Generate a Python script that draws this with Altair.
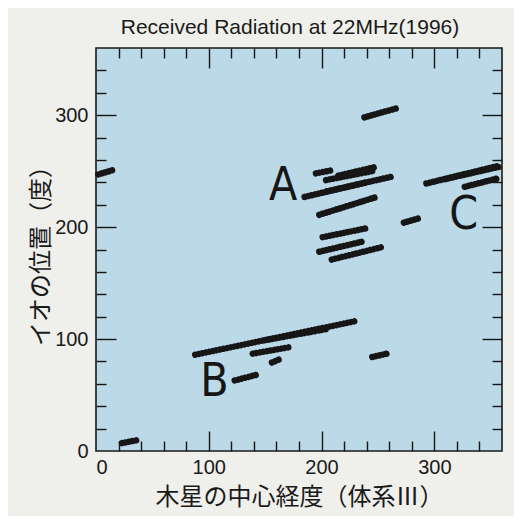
import altair as alt
import pandas as pd

# ---- data (segments of received radiation) ----
seg_x1 = [195, 204, 215, 185, 205, 198, 201, 198, 209,   # A group
          293, 310, 327, 2,                                # C group (+ wrap)
          238, 273, 23,                                    # misc
          88, 150, 139, 156, 123, 245]                     # B group
seg_y1 = [248, 242, 246, 227, 232, 211, 191, 178, 171,
          239, 243, 236, 247,
          298, 204, 7,
          86, 99, 87, 79, 63, 84]
seg_x2 = [210, 245, 249, 240, 262, 249, 240, 236, 253,
          358, 358, 358, 15,
          266, 287, 38,
          230, 205, 173, 163, 142, 258]
seg_y2 = [251, 250, 254, 240, 245, 227, 199, 187, 182,
          255, 254, 244, 251,
          306, 208, 10,
          116, 109, 93, 82, 68, 87]

label_text = ["A", "B", "C"]
label_x = [166, 105, 326]
label_y = [237, 62, 211]

tick_labels = [0, 100, 200, 300]
major_ticks = [100, 200, 300]
minor_ticks = [20, 40, 60, 80, 120, 140, 160, 180, 220, 240, 260, 280, 320, 340]

W, H = 406, 403
BLUE = "#bcd9e8"
PANEL = "#efefeb"
INK = "#161616"

xs = alt.Scale(domain=[0, 360], nice=False, zero=False)
ys = alt.Scale(domain=[0, 360], nice=False, zero=False)

segs = pd.DataFrame({"x1": seg_x1, "y1": seg_y1, "x2": seg_x2, "y2": seg_y2})
labels = pd.DataFrame({"t": label_text, "x1": label_x, "y1": label_y})

x_axis = alt.Axis(values=tick_labels, ticks=False, domain=False, grid=False,
                  labelFontSize=20, labelFont="Liberation Sans", labelColor="#1a1a1a",
                  labelPadding=6, title="木星の中心経度（体系Ⅲ）",
                  titleFont="Noto Sans CJK JP", titleFontSize=24, titleFontWeight="normal",
                  titleColor="#1a1a1a", titlePadding=8)
y_axis = alt.Axis(values=tick_labels, ticks=False, domain=False, grid=False,
                  labelFontSize=20, labelFont="Liberation Sans", labelColor="#1a1a1a",
                  labelPadding=8, title="イオの位置（度）",
                  titleFont="Noto Sans CJK JP", titleFontSize=24, titleFontWeight="normal",
                  titleColor="#1a1a1a", titlePadding=1)

seg_layer = alt.Chart(segs).mark_rule(
    strokeWidth=6.5, strokeCap="round", strokeDash=[0.01, 3.6], color=INK
).encode(
    x=alt.X("x1:Q", scale=xs, axis=x_axis),
    y=alt.Y("y1:Q", scale=ys, axis=y_axis),
    x2="x2:Q", y2="y2:Q")

text_layer = alt.Chart(labels).mark_text(
    fontSize=46, font="Liberation Sans Narrow, DejaVu Sans Condensed, Roboto Condensed, Liberation Sans",
    color=INK, baseline="middle", align="center"
).encode(
    x=alt.X("x1:Q", scale=xs, axis=None),
    y=alt.Y("y1:Q", scale=ys, axis=None),
    text="t:N")


def tick_axis(orient, vals, L):
    # inward ticks: axis line moved inside by L, ticks of length L reach the frame
    return alt.Axis(orient=orient, offset=-L, tickSize=L, ticks=True, labels=False,
                    domain=False, grid=False, title="", values=vals,
                    tickColor=INK, tickWidth=1.4)


tick_layers = []
for vals, L in [(major_ticks, 20), (minor_ticks, 10)]:
    tx = pd.DataFrame({"tx": vals})
    ty = pd.DataFrame({"ty": vals})
    for orient in ("bottom", "top"):
        tick_layers.append(alt.Chart(tx).mark_point(opacity=0).encode(
            x=alt.X("tx:Q", scale=xs, axis=tick_axis(orient, vals, L))))
    for orient in ("left", "right"):
        tick_layers.append(alt.Chart(ty).mark_point(opacity=0).encode(
            y=alt.Y("ty:Q", scale=ys, axis=tick_axis(orient, vals, L))))

chart = alt.layer(seg_layer, text_layer, *tick_layers).resolve_axis(
    x="independent", y="independent"
).properties(
    width=W, height=H,
    title=alt.TitleParams("Received Radiation at 22MHz(1996)", fontSize=21,
                          font="Liberation Sans", fontWeight="normal", color="#1a1a1a",
                          offset=9, dx=-9),
    autosize=alt.AutoSizeParams(type="none"),
    padding={"left": 88, "top": 40, "right": 12, "bottom": 65},
    background=PANEL,
).configure_view(
    fill=BLUE, stroke="#1a1a1a", strokeWidth=1.6
)

chart.save("out.html", embed_options={"renderer": "svg", "actions": False})
